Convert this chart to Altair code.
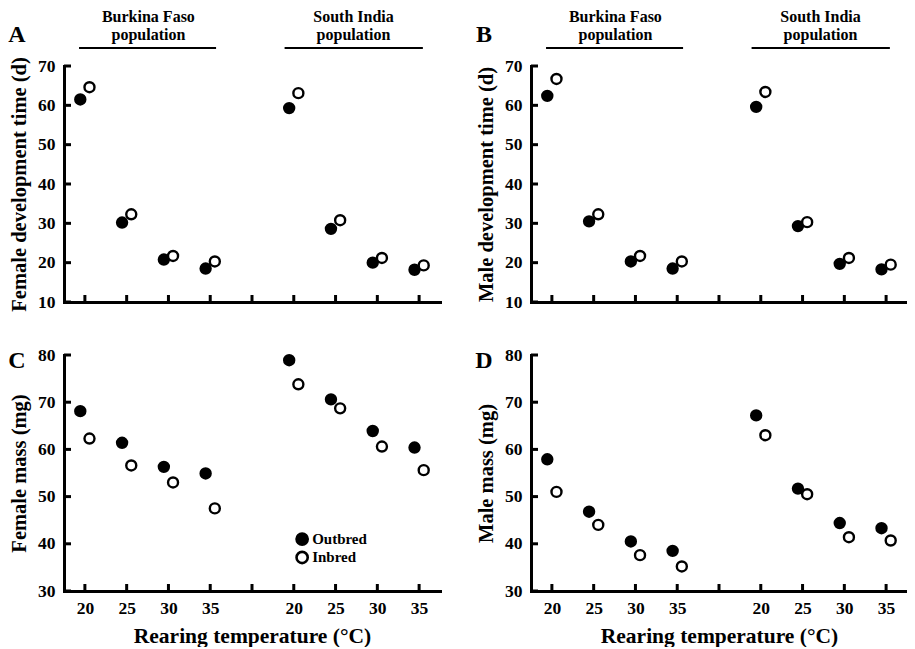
import json
import pandas as pd
import altair as alt

# ---------------- data ----------------
temps = [20, 25, 30, 35]
populations = ["Burkina Faso", "South India"]
groups = ["Outbred", "Inbred"]

female_dev_outbred = [61.5, 30.2, 20.8, 18.5, 59.3, 28.6, 20.0, 18.2]
female_dev_inbred = [64.6, 32.3, 21.7, 20.3, 63.1, 30.8, 21.2, 19.3]
male_dev_outbred = [62.4, 30.5, 20.3, 18.5, 59.6, 29.3, 19.7, 18.3]
male_dev_inbred = [66.7, 32.3, 21.7, 20.3, 63.4, 30.3, 21.2, 19.5]
female_mass_outbred = [68.1, 61.4, 56.3, 54.9, 78.9, 70.6, 63.9, 60.4]
female_mass_inbred = [62.3, 56.6, 53.0, 47.5, 73.8, 68.7, 60.6, 55.6]
male_mass_outbred = [57.9, 46.8, 40.5, 38.5, 67.2, 51.7, 44.4, 43.3]
male_mass_inbred = [51.0, 44.0, 37.6, 35.2, 63.0, 50.5, 41.4, 40.7]

x_tick_positions = [1, 2, 3, 4, 5, 6, 7, 8, 9]
x_tick_labels = ["20", "25", "30", "35", "", "20", "25", "30", "35"]
dev_ticks = [10, 20, 30, 40, 50, 60, 70]
mass_ticks = [30, 40, 50, 60, 70, 80]

header_line1 = ["Burkina Faso", "South India"]
header_line2 = ["population", "population"]
header_centers = [2.52, 7.43]
header_starts = [0.86, 5.78]
header_ends = [4.14, 9.09]

legend_pos = [6.2, 6.2]
legend_vals = [41.0, 37.1]

FONT = "Liberation Serif"
W = 376
H = 236
OFFSET = 0.11


def make_df(outbred, inbred):
    rows = []
    for i, (o, n) in enumerate(zip(outbred, inbred)):
        base = i + 1 if i < 4 else i + 2
        pop = populations[i // 4]
        t = temps[i % 4]
        rows.append(dict(pos=base - OFFSET, value=o, group="Outbred", pop=pop, temp=t))
        rows.append(dict(pos=base + OFFSET, value=n, group="Inbred", pop=pop, temp=t))
    return pd.DataFrame(rows)


fill_scale = alt.Scale(domain=groups, range=["black", "white"])


def panel(outbred, inbred, ytitle, ydomain, yticks, letter, letter_y, bottom, header, legend):
    df = make_df(outbred, inbred)
    xscale = alt.Scale(domain=[0.5, 9.5], nice=False, zero=False)
    yscale = alt.Scale(domain=ydomain, nice=False, zero=False)
    label_expr = json.dumps(x_tick_labels) + "[datum.value - 1]"
    xaxis = alt.Axis(
        values=x_tick_positions, labelExpr=label_expr, labels=bottom,
        title="Rearing temperature (°C)" if bottom else None,
        ticks=False, tickSize=0, grid=False, labelPadding=8, titlePadding=9,
        labelFontSize=17.5, titleFontSize=21.5, labelAngle=0,
    )
    yaxis = alt.Axis(
        values=yticks, title=ytitle, ticks=False, tickSize=0, grid=False,
        labelPadding=9, titlePadding=8, labelFontSize=17.5, titleFontSize=20.5,
    )

    def X(field):
        return alt.X(field, scale=xscale, axis=xaxis)

    def Y(field):
        return alt.Y(field, scale=yscale, axis=yaxis)

    pts = alt.Chart(df).mark_circle(size=100, stroke="black", strokeWidth=2.4, opacity=1).encode(
        x=X("pos:Q"),
        y=Y("value:Q"),
        fill=alt.Fill("group:N", scale=fill_scale, legend=None),
    )
    xt = alt.Chart(pd.DataFrame({"pos": x_tick_positions})).mark_rule(color="black", strokeWidth=3).encode(
        x=X("pos:Q"),
        y=alt.value(H), y2=alt.value(H - 7),
    )
    yt = alt.Chart(pd.DataFrame({"value": yticks})).mark_rule(color="black", strokeWidth=3).encode(
        y=Y("value:Q"),
        x=alt.value(0), x2=alt.value(7),
    )
    lt = alt.Chart(pd.DataFrame({"t": [letter]})).mark_text(
        font=FONT, fontWeight="bold", fontSize=24, baseline="middle", color="black"
    ).encode(x=alt.value(-47), y=alt.value(letter_y), text="t:N")
    layers = [pts, xt, yt, lt]
    if header:
        hdf = pd.DataFrame({"cx": header_centers, "l1": header_line1, "l2": header_line2,
                            "x1": header_starts, "x2": header_ends})
        h1 = alt.Chart(hdf).mark_text(font=FONT, fontWeight="bold", fontSize=16, baseline="middle", color="black").encode(
            x=X("cx:Q"), y=alt.value(-49), text="l1:N")
        h2 = alt.Chart(hdf).mark_text(font=FONT, fontWeight="bold", fontSize=16, baseline="middle", color="black").encode(
            x=X("cx:Q"), y=alt.value(-31), text="l2:N")
        hr = alt.Chart(hdf).mark_rule(color="black", strokeWidth=2).encode(
            x=X("x1:Q"), x2="x2:Q", y=alt.value(-18))
        layers += [h1, h2, hr]
    if legend:
        ldf = pd.DataFrame({"group": groups, "lx": legend_pos, "ly": legend_vals})
        lp = alt.Chart(ldf).mark_circle(size=125, stroke="black", strokeWidth=2.6, opacity=1).encode(
            x=X("lx:Q"),
            y=Y("ly:Q"),
            fill=alt.Fill("group:N", scale=fill_scale, legend=None),
        )
        ltx = alt.Chart(ldf).mark_text(font=FONT, fontWeight="bold", fontSize=15, align="left",
                                       baseline="middle", dx=10, color="black").encode(
            x=X("lx:Q"),
            y=Y("ly:Q"),
            text="group:N",
        )
        layers += [lp, ltx]
    return alt.layer(*layers).properties(width=W, height=H)


A = panel(female_dev_outbred, female_dev_inbred, "Female development time (d)", [10, 70], dev_ticks, "A", -31, False, True, False)
B = panel(male_dev_outbred, male_dev_inbred, "Male development time (d)", [10, 70], dev_ticks, "B", -31, False, True, False)
C = panel(female_mass_outbred, female_mass_inbred, "Female mass (mg)", [30, 80], mass_ticks, "C", 6, True, False, True)
D = panel(male_mass_outbred, male_mass_inbred, "Male mass (mg)", [30, 80], mass_ticks, "D", 6, True, False, False)

row1 = alt.hconcat(A, B, spacing=35)
row2 = alt.hconcat(C, D, spacing=35)

chart = alt.vconcat(row1, row2, spacing=34).properties(
    padding={"left": 0, "top": 1, "right": 0, "bottom": 0},
    background="white",
).configure_view(stroke=None).configure_axis(
    domainColor="black", domainWidth=3, domainCap="square",
    labelFont=FONT, labelFontWeight="bold", labelColor="black",
    titleFont=FONT, titleFontWeight="bold", titleColor="black",
)

chart.save("out.html", embed_options={"renderer": "svg", "actions": False})
